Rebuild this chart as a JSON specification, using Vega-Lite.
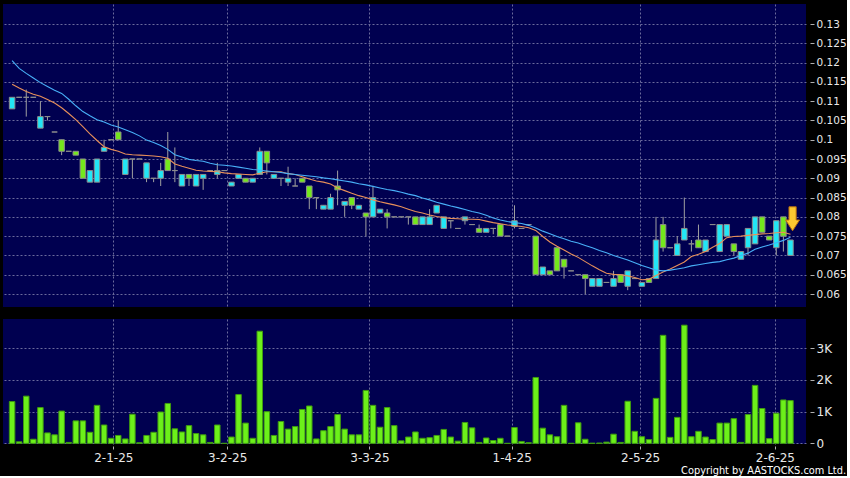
{
"$schema": "https://vega.github.io/schema/vega-lite/v6.json",
"background": "black",
"padding": {"left": 3, "top": 4, "right": 0, "bottom": 0},
"config": {
  "view": {"fill": "#000050", "stroke": null},
  "concat": {"spacing": 12},
  "axis": {"gridColor": "#6a6a9c", "gridDash": [2, 2], "gridWidth": 1, "labelFont": "DejaVu Sans", "labelColor": "#e8e8e8", "tickColor": "#b0b0b0", "domain": false, "labelOverlap": false}
},
"title": {"text": "Copyright by AASTOCKS.com Ltd.", "orient": "bottom", "anchor": "end", "fontSize": 9.8, "fontWeight": "normal", "color": "#ffffff", "font": "DejaVu Sans", "offset": 3},
"datasets": {
"m": [{"i": 110.3, "p": 0.0795}],
"d": [
{"i":0,"o":0.108,"h":0.111,"l":0.108,"c":0.111,"v":1320,"ma10":0.1144,"ma20":0.1205},
{"i":1,"o":0.111,"h":0.111,"l":0.111,"c":0.111,"v":50,"ma10":0.1134,"ma20":0.1185},
{"i":2,"o":0.111,"h":0.113,"l":0.106,"c":0.111,"v":1490,"ma10":0.1125,"ma20":0.1172},
{"i":3,"o":0.111,"h":0.111,"l":0.111,"c":0.111,"v":130,"ma10":0.1118,"ma20":0.1160},
{"i":4,"o":0.103,"h":0.110,"l":0.103,"c":0.106,"v":1130,"ma10":0.1113,"ma20":0.1148},
{"i":5,"o":0.106,"h":0.106,"l":0.105,"c":0.106,"v":330,"ma10":0.1104,"ma20":0.1138},
{"i":6,"o":0.102,"h":0.102,"l":0.102,"c":0.102,"v":270,"ma10":0.1095,"ma20":0.1128},
{"i":7,"o":0.100,"h":0.100,"l":0.096,"c":0.097,"v":1020,"ma10":0.1083,"ma20":0.1120},
{"i":8,"o":0.097,"h":0.097,"l":0.097,"c":0.097,"v":30,"ma10":0.1068,"ma20":0.1105},
{"i":9,"o":0.097,"h":0.097,"l":0.096,"c":0.096,"v":710,"ma10":0.1052,"ma20":0.1088},
{"i":10,"o":0.095,"h":0.095,"l":0.090,"c":0.090,"v":710,"ma10":0.1034,"ma20":0.1073},
{"i":11,"o":0.089,"h":0.092,"l":0.089,"c":0.092,"v":350,"ma10":0.1015,"ma20":0.1062},
{"i":12,"o":0.089,"h":0.095,"l":0.089,"c":0.095,"v":1200,"ma10":0.0998,"ma20":0.1052},
{"i":13,"o":0.097,"h":0.100,"l":0.097,"c":0.098,"v":580,"ma10":0.0982,"ma20":0.1046},
{"i":14,"o":0.100,"h":0.100,"l":0.100,"c":0.100,"v":160,"ma10":0.0975,"ma20":0.1038},
{"i":15,"o":0.102,"h":0.105,"l":0.100,"c":0.100,"v":250,"ma10":0.0970,"ma20":0.1033},
{"i":16,"o":0.091,"h":0.095,"l":0.091,"c":0.095,"v":140,"ma10":0.0963,"ma20":0.1026},
{"i":17,"o":0.095,"h":0.095,"l":0.090,"c":0.095,"v":920,"ma10":0.0961,"ma20":0.1019},
{"i":18,"o":0.095,"h":0.095,"l":0.095,"c":0.095,"v":20,"ma10":0.0960,"ma20":0.1010},
{"i":19,"o":0.090,"h":0.094,"l":0.089,"c":0.094,"v":250,"ma10":0.0959,"ma20":0.0999},
{"i":20,"o":0.090,"h":0.090,"l":0.089,"c":0.090,"v":350,"ma10":0.0958,"ma20":0.0993},
{"i":21,"o":0.090,"h":0.094,"l":0.088,"c":0.092,"v":990,"ma10":0.0956,"ma20":0.0985},
{"i":22,"o":0.095,"h":0.102,"l":0.092,"c":0.092,"v":1260,"ma10":0.0952,"ma20":0.0975},
{"i":23,"o":0.092,"h":0.098,"l":0.089,"c":0.092,"v":460,"ma10":0.0937,"ma20":0.0961},
{"i":24,"o":0.088,"h":0.091,"l":0.088,"c":0.091,"v":360,"ma10":0.0931,"ma20":0.0955},
{"i":25,"o":0.091,"h":0.091,"l":0.088,"c":0.090,"v":560,"ma10":0.0926,"ma20":0.0949},
{"i":26,"o":0.088,"h":0.091,"l":0.088,"c":0.091,"v":310,"ma10":0.0921,"ma20":0.0946},
{"i":27,"o":0.090,"h":0.091,"l":0.087,"c":0.091,"v":270,"ma10":0.0919,"ma20":0.0944},
{"i":28,"o":0.092,"h":0.092,"l":0.092,"c":0.092,"v":30,"ma10":0.0918,"ma20":0.0939},
{"i":29,"o":0.091,"h":0.094,"l":0.090,"c":0.092,"v":580,"ma10":0.0917,"ma20":0.0935},
{"i":30,"o":0.092,"h":0.092,"l":0.092,"c":0.092,"v":0,"ma10":0.0914,"ma20":0.0934},
{"i":31,"o":0.088,"h":0.089,"l":0.088,"c":0.089,"v":200,"ma10":0.0912,"ma20":0.0932},
{"i":32,"o":0.090,"h":0.091,"l":0.090,"c":0.091,"v":1540,"ma10":0.0911,"ma20":0.0929},
{"i":33,"o":0.090,"h":0.090,"l":0.089,"c":0.089,"v":640,"ma10":0.0910,"ma20":0.0926},
{"i":34,"o":0.089,"h":0.090,"l":0.089,"c":0.090,"v":160,"ma10":0.0909,"ma20":0.0923},
{"i":35,"o":0.091,"h":0.098,"l":0.091,"c":0.097,"v":3540,"ma10":0.0913,"ma20":0.0921},
{"i":36,"o":0.097,"h":0.097,"l":0.091,"c":0.094,"v":1000,"ma10":0.0917,"ma20":0.0919},
{"i":37,"o":0.090,"h":0.091,"l":0.090,"c":0.091,"v":250,"ma10":0.0917,"ma20":0.0917},
{"i":38,"o":0.090,"h":0.090,"l":0.088,"c":0.090,"v":690,"ma10":0.0917,"ma20":0.0915},
{"i":39,"o":0.089,"h":0.093,"l":0.088,"c":0.090,"v":450,"ma10":0.0912,"ma20":0.0912},
{"i":40,"o":0.088,"h":0.090,"l":0.088,"c":0.088,"v":530,"ma10":0.0910,"ma20":0.0910},
{"i":41,"o":0.090,"h":0.090,"l":0.089,"c":0.089,"v":1070,"ma10":0.0904,"ma20":0.0908},
{"i":42,"o":0.088,"h":0.088,"l":0.082,"c":0.085,"v":1180,"ma10":0.0898,"ma20":0.0906},
{"i":43,"o":0.085,"h":0.085,"l":0.082,"c":0.085,"v":140,"ma10":0.0893,"ma20":0.0904},
{"i":44,"o":0.082,"h":0.083,"l":0.082,"c":0.083,"v":400,"ma10":0.0890,"ma20":0.0901},
{"i":45,"o":0.082,"h":0.086,"l":0.082,"c":0.085,"v":530,"ma10":0.0885,"ma20":0.0899},
{"i":46,"o":0.088,"h":0.092,"l":0.083,"c":0.087,"v":910,"ma10":0.0875,"ma20":0.0896},
{"i":47,"o":0.083,"h":0.084,"l":0.080,"c":0.084,"v":450,"ma10":0.0868,"ma20":0.0893},
{"i":48,"o":0.085,"h":0.085,"l":0.082,"c":0.083,"v":270,"ma10":0.0861,"ma20":0.0890},
{"i":49,"o":0.082,"h":0.083,"l":0.082,"c":0.083,"v":270,"ma10":0.0855,"ma20":0.0886},
{"i":50,"o":0.081,"h":0.081,"l":0.075,"c":0.080,"v":1670,"ma10":0.0850,"ma20":0.0883},
{"i":51,"o":0.080,"h":0.088,"l":0.080,"c":0.085,"v":1200,"ma10":0.0844,"ma20":0.0879},
{"i":52,"o":0.081,"h":0.082,"l":0.081,"c":0.082,"v":510,"ma10":0.0839,"ma20":0.0875},
{"i":53,"o":0.081,"h":0.082,"l":0.077,"c":0.080,"v":1130,"ma10":0.0835,"ma20":0.0871},
{"i":54,"o":0.080,"h":0.080,"l":0.080,"c":0.080,"v":560,"ma10":0.0831,"ma20":0.0868},
{"i":55,"o":0.080,"h":0.080,"l":0.080,"c":0.080,"v":80,"ma10":0.0826,"ma20":0.0864},
{"i":56,"o":0.080,"h":0.080,"l":0.078,"c":0.080,"v":200,"ma10":0.0820,"ma20":0.0859},
{"i":57,"o":0.080,"h":0.080,"l":0.078,"c":0.078,"v":360,"ma10":0.0814,"ma20":0.0855},
{"i":58,"o":0.078,"h":0.080,"l":0.078,"c":0.080,"v":160,"ma10":0.0810,"ma20":0.0849},
{"i":59,"o":0.078,"h":0.082,"l":0.078,"c":0.080,"v":180,"ma10":0.0805,"ma20":0.0844},
{"i":60,"o":0.081,"h":0.083,"l":0.081,"c":0.083,"v":250,"ma10":0.0801,"ma20":0.0838},
{"i":61,"o":0.077,"h":0.080,"l":0.077,"c":0.080,"v":440,"ma10":0.0798,"ma20":0.0833},
{"i":62,"o":0.079,"h":0.079,"l":0.077,"c":0.079,"v":200,"ma10":0.0796,"ma20":0.0828},
{"i":63,"o":0.077,"h":0.077,"l":0.077,"c":0.077,"v":70,"ma10":0.0795,"ma20":0.0824},
{"i":64,"o":0.079,"h":0.080,"l":0.078,"c":0.080,"v":660,"ma10":0.0794,"ma20":0.0819},
{"i":65,"o":0.078,"h":0.078,"l":0.078,"c":0.078,"v":490,"ma10":0.0794,"ma20":0.0814},
{"i":66,"o":0.077,"h":0.078,"l":0.076,"c":0.076,"v":30,"ma10":0.0793,"ma20":0.0810},
{"i":67,"o":0.076,"h":0.077,"l":0.076,"c":0.077,"v":170,"ma10":0.0789,"ma20":0.0804},
{"i":68,"o":0.077,"h":0.077,"l":0.0755,"c":0.077,"v":90,"ma10":0.0785,"ma20":0.0797},
{"i":69,"o":0.078,"h":0.078,"l":0.075,"c":0.075,"v":160,"ma10":0.0782,"ma20":0.0792},
{"i":70,"o":0.075,"h":0.075,"l":0.075,"c":0.075,"v":0,"ma10":0.0779,"ma20":0.0788},
{"i":71,"o":0.0775,"h":0.083,"l":0.077,"c":0.079,"v":500,"ma10":0.0777,"ma20":0.0785},
{"i":72,"o":0.077,"h":0.077,"l":0.077,"c":0.077,"v":60,"ma10":0.0775,"ma20":0.0783},
{"i":73,"o":0.078,"h":0.078,"l":0.078,"c":0.078,"v":20,"ma10":0.0772,"ma20":0.0778},
{"i":74,"o":0.075,"h":0.075,"l":0.065,"c":0.065,"v":2080,"ma10":0.0765,"ma20":0.0771},
{"i":75,"o":0.065,"h":0.067,"l":0.065,"c":0.067,"v":480,"ma10":0.0749,"ma20":0.0763},
{"i":76,"o":0.066,"h":0.066,"l":0.065,"c":0.065,"v":270,"ma10":0.0735,"ma20":0.0756},
{"i":77,"o":0.072,"h":0.072,"l":0.066,"c":0.066,"v":210,"ma10":0.0724,"ma20":0.0749},
{"i":78,"o":0.069,"h":0.069,"l":0.064,"c":0.067,"v":1200,"ma10":0.0714,"ma20":0.0743},
{"i":79,"o":0.066,"h":0.066,"l":0.066,"c":0.066,"v":0,"ma10":0.0704,"ma20":0.0737},
{"i":80,"o":0.065,"h":0.065,"l":0.065,"c":0.065,"v":650,"ma10":0.0695,"ma20":0.0732},
{"i":81,"o":0.065,"h":0.065,"l":0.060,"c":0.064,"v":130,"ma10":0.0684,"ma20":0.0726},
{"i":82,"o":0.062,"h":0.064,"l":0.062,"c":0.064,"v":5,"ma10":0.0673,"ma20":0.0720},
{"i":83,"o":0.062,"h":0.064,"l":0.062,"c":0.064,"v":10,"ma10":0.0663,"ma20":0.0713},
{"i":84,"o":0.063,"h":0.063,"l":0.063,"c":0.063,"v":40,"ma10":0.0654,"ma20":0.0707},
{"i":85,"o":0.062,"h":0.066,"l":0.062,"c":0.064,"v":290,"ma10":0.0651,"ma20":0.0700},
{"i":86,"o":0.065,"h":0.065,"l":0.063,"c":0.063,"v":30,"ma10":0.0650,"ma20":0.0694},
{"i":87,"o":0.062,"h":0.066,"l":0.061,"c":0.066,"v":1330,"ma10":0.0647,"ma20":0.0688},
{"i":88,"o":0.064,"h":0.064,"l":0.064,"c":0.064,"v":380,"ma10":0.0643,"ma20":0.0681},
{"i":89,"o":0.062,"h":0.063,"l":0.062,"c":0.063,"v":210,"ma10":0.0637,"ma20":0.0674},
{"i":90,"o":0.064,"h":0.064,"l":0.063,"c":0.063,"v":120,"ma10":0.0638,"ma20":0.0668},
{"i":91,"o":0.064,"h":0.080,"l":0.064,"c":0.074,"v":1420,"ma10":0.0648,"ma20":0.0662},
{"i":92,"o":0.078,"h":0.080,"l":0.071,"c":0.072,"v":3410,"ma10":0.0657,"ma20":0.0660},
{"i":93,"o":0.072,"h":0.072,"l":0.072,"c":0.072,"v":190,"ma10":0.0665,"ma20":0.0662},
{"i":94,"o":0.070,"h":0.075,"l":0.070,"c":0.073,"v":820,"ma10":0.0674,"ma20":0.0665},
{"i":95,"o":0.074,"h":0.085,"l":0.074,"c":0.077,"v":3730,"ma10":0.0683,"ma20":0.0668},
{"i":96,"o":0.073,"h":0.074,"l":0.071,"c":0.073,"v":210,"ma10":0.0697,"ma20":0.0673},
{"i":97,"o":0.074,"h":0.078,"l":0.072,"c":0.072,"v":380,"ma10":0.0703,"ma20":0.0676},
{"i":98,"o":0.071,"h":0.074,"l":0.071,"c":0.074,"v":200,"ma10":0.0710,"ma20":0.0679},
{"i":99,"o":0.078,"h":0.078,"l":0.078,"c":0.078,"v":120,"ma10":0.0721,"ma20":0.0682},
{"i":100,"o":0.071,"h":0.078,"l":0.071,"c":0.078,"v":640,"ma10":0.0731,"ma20":0.0684},
{"i":101,"o":0.075,"h":0.078,"l":0.075,"c":0.078,"v":640,"ma10":0.0746,"ma20":0.0689},
{"i":102,"o":0.073,"h":0.073,"l":0.070,"c":0.071,"v":780,"ma10":0.0749,"ma20":0.0693},
{"i":103,"o":0.069,"h":0.071,"l":0.069,"c":0.071,"v":30,"ma10":0.0750,"ma20":0.0700},
{"i":104,"o":0.072,"h":0.077,"l":0.070,"c":0.077,"v":910,"ma10":0.0752,"ma20":0.0706},
{"i":105,"o":0.073,"h":0.080,"l":0.073,"c":0.080,"v":1830,"ma10":0.0754,"ma20":0.0716},
{"i":106,"o":0.080,"h":0.080,"l":0.076,"c":0.076,"v":1100,"ma10":0.0756,"ma20":0.0722},
{"i":107,"o":0.075,"h":0.075,"l":0.074,"c":0.074,"v":150,"ma10":0.0757,"ma20":0.0727},
{"i":108,"o":0.072,"h":0.079,"l":0.070,"c":0.079,"v":950,"ma10":0.0759,"ma20":0.0733},
{"i":109,"o":0.080,"h":0.080,"l":0.071,"c":0.075,"v":1370,"ma10":0.0760,"ma20":0.0739},
{"i":110,"o":0.070,"h":0.074,"l":0.070,"c":0.074,"v":1350,"ma10":0.0755,"ma20":0.0747}
]
},
"vconcat": [
{
  "width": 803, "height": 303,
  "data": {"name": "d"},
  "encoding": {
    "x": {"field": "i", "type": "quantitative", "title": null,
      "scale": {"domain": [-0.58, 111.49], "nice": false, "zero": false},
      "axis": {"values": [14.3, 30.4, 50.5, 70.6, 88.75, 107.8], "labels": false, "ticks": false, "domain": false, "grid": true, "minExtent": 0, "maxExtent": 0}}
  },
  "layer": [
    {"mark": {"type": "rule", "color": "#a0a0a0", "strokeWidth": 1},
     "encoding": {
       "y": {"field": "l", "type": "quantitative", "title": null,
         "scale": {"domain": [0.05663, 0.13519], "nice": false, "zero": false},
         "axis": {"orient": "right", "values": [0.06, 0.065, 0.07, 0.075, 0.08, 0.085, 0.09, 0.095, 0.1, 0.105, 0.11, 0.115, 0.12, 0.125, 0.13], "format": ".3~f", "grid": true, "offset": 4, "tickSize": 4, "labelPadding": 2, "labelFontSize": 10.5, "labelOverlap": false}},
       "y2": {"field": "h"}
     }},
    {"mark": {"type": "bar", "width": 5.5, "stroke": "#8c8c8c", "strokeWidth": 1},
     "encoding": {
       "y": {"field": "o", "type": "quantitative", "title": null,
         "scale": {"domain": [0.05663, 0.13519], "nice": false, "zero": false},
         "axis": {"orient": "right", "values": [0.06, 0.065, 0.07, 0.075, 0.08, 0.085, 0.09, 0.095, 0.1, 0.105, 0.11, 0.115, 0.12, 0.125, 0.13], "format": ".3~f", "grid": true, "offset": 4, "tickSize": 4, "labelPadding": 2, "labelFontSize": 10.5, "labelOverlap": false}},
       "y2": {"field": "c"},
       "fill": {"condition": {"test": "datum.c > datum.o", "value": "#22e6f6"}, "value": "#74e81c"}
     }},
    {"mark": {"type": "line", "color": "#e8905a", "strokeWidth": 1.1},
     "encoding": {"y": {"field": "ma10", "type": "quantitative", "title": null,
         "scale": {"domain": [0.05663, 0.13519], "nice": false, "zero": false},
         "axis": {"orient": "right", "values": [0.06, 0.065, 0.07, 0.075, 0.08, 0.085, 0.09, 0.095, 0.1, 0.105, 0.11, 0.115, 0.12, 0.125, 0.13], "format": ".3~f", "grid": true, "offset": 4, "tickSize": 4, "labelPadding": 2, "labelFontSize": 10.5, "labelOverlap": false}}}},
    {"mark": {"type": "line", "color": "#48b0f8", "strokeWidth": 1.1},
     "encoding": {"y": {"field": "ma20", "type": "quantitative", "title": null,
         "scale": {"domain": [0.05663, 0.13519], "nice": false, "zero": false},
         "axis": {"orient": "right", "values": [0.06, 0.065, 0.07, 0.075, 0.08, 0.085, 0.09, 0.095, 0.1, 0.105, 0.11, 0.115, 0.12, 0.125, 0.13], "format": ".3~f", "grid": true, "offset": 4, "tickSize": 4, "labelPadding": 2, "labelFontSize": 10.5, "labelOverlap": false}}}},
    {"data": {"name": "m"},
     "mark": {"type": "point", "shape": "M-0.3,-1L0.3,-1L0.3,0.1L0.58,0.1L0,1L-0.58,0.1L-0.3,0.1Z", "filled": true, "size": 576, "fill": "#fcc830", "stroke": "#b86e10", "strokeWidth": 1, "opacity": 1},
     "encoding": {"x": {"field": "i", "type": "quantitative"}, "y": {"field": "p", "type": "quantitative", "title": null,
         "scale": {"domain": [0.05663, 0.13519], "nice": false, "zero": false},
         "axis": {"orient": "right", "values": [0.06, 0.065, 0.07, 0.075, 0.08, 0.085, 0.09, 0.095, 0.1, 0.105, 0.11, 0.115, 0.12, 0.125, 0.13], "format": ".3~f", "grid": true, "offset": 4, "tickSize": 4, "labelPadding": 2, "labelFontSize": 10.5, "labelOverlap": false}}}}
  ]
},
{
  "width": 803, "height": 125,
  "data": {"name": "d"},
  "mark": {"type": "bar", "width": 5.5, "fill": "#6cf01a", "stroke": "#3f9a10", "strokeWidth": 1},
  "encoding": {
    "x": {"field": "i", "type": "quantitative", "title": null,
      "scale": {"domain": [-0.58, 111.49], "nice": false, "zero": false},
      "axis": {"values": [14.3, 30.4, 50.5, 70.6, 88.75, 107.8], "labelExpr": "datum.value < 20 ? '2-1-25' : datum.value < 40 ? '3-2-25' : datum.value < 60 ? '3-3-25' : datum.value < 80 ? '1-4-25' : datum.value < 100 ? '2-5-25' : '2-6-25'", "grid": true, "ticks": true, "tickSize": 3, "offset": 2, "labelPadding": 3, "labelFontSize": 12, "domain": false}},
    "y": {"field": "v", "type": "quantitative", "title": null,
      "scale": {"domain": [-20, 3925], "nice": false},
      "axis": {"orient": "right", "values": [0, 1000, 2000, 3000], "labelExpr": "datum.value == 0 ? '0' : (datum.value / 1000) + 'K'", "grid": true, "offset": 4, "tickSize": 4, "labelPadding": 2, "labelFontSize": 12}}
  }
}
]
}
